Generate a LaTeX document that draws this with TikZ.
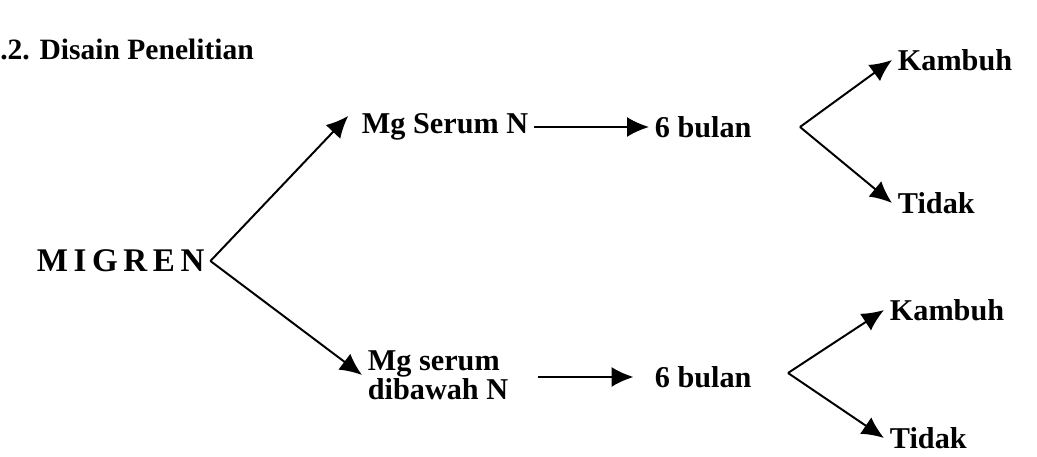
\documentclass[tikz,border=0pt]{standalone}
\usepackage{fontspec}
\setmainfont{Liberation Serif}
\usetikzlibrary{arrows.meta,positioning}

\begin{document}
\begin{tikzpicture}[x=0.025cm,y=-0.025cm,
        every text node part/.style={align=left},
        lbl/.style={font=\fontsize{21.5}{18}\selectfont\bfseries, inner sep=4pt, anchor=west},
        arr/.style={draw,line width=1.4pt,-{Latex[length=0.55cm,width=0.5cm]}}]
        \useasboundingbox (0,0) rectangle (1037,457);

        \node[lbl,font=\fontsize{21}{24}\selectfont\bfseries,inner sep=0pt] (title) at (0,49) {.2. Disain Penelitian};

        \node[lbl,font=\fontsize{23.5}{26}\selectfont\bfseries] (migren) at (31,261) {\addfontfeature{LetterSpace=17}MIGREN};

        \node[lbl] (mgnormal) at (356,127) {Mg Serum N};
        \node[lbl] (bulan1) at (649,127) {6 bulan};
        \node[lbl] (kambuh1) at (892,60) {Kambuh};
        \node[lbl] (tidak1) at (892,203) {Tidak};

        \node[lbl] (mgbawah) at (362,375) {Mg serum\\dibawah N};
        \node[lbl] (bulan2) at (649,377) {6 bulan};
        \node[lbl] (kambuh2) at (884,310) {Kambuh};
        \node[lbl] (tidak2) at (884,438) {Tidak};

        \coordinate (fork1) at (800,127);
        \coordinate (fork2) at (788,373);

        \path[arr,shorten >=8pt] (migren.east) -- (mgnormal.north west);
        \path[arr] (migren.east) -- (mgbawah.west);
        \path[arr] (mgnormal) -- (bulan1);
        \path[arr,shorten <=17pt,shorten >=11pt] (mgbawah.east |- bulan2) -- (bulan2);
        \path[arr] (fork1) -- (kambuh1.west);
        \path[arr] (fork1) -- (tidak1.west);
        \path[arr] (fork2) -- (kambuh2.west);
        \path[arr] (fork2) -- (tidak2.west);
\end{tikzpicture}
\end{document}
